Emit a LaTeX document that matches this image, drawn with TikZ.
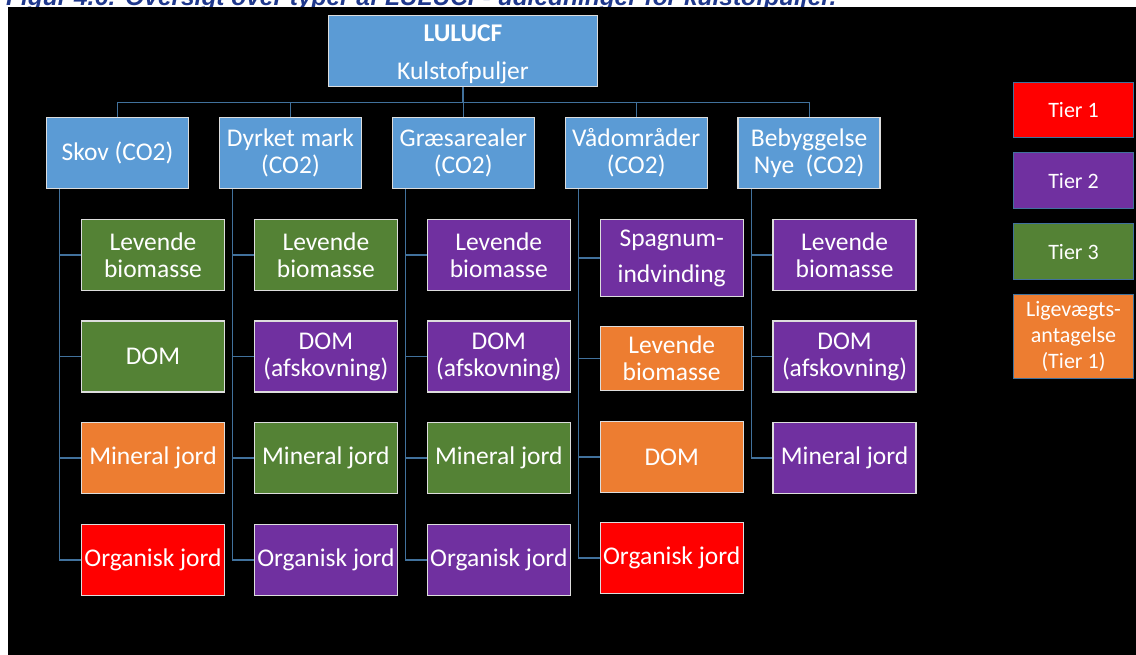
\documentclass[tikz,border=0pt]{standalone}
\usepackage{fontspec}
\setmainfont{Carlito}
\newfontfamily\capfont{Liberation Sans}
\usetikzlibrary{calc}
\definecolor{boxblue}{HTML}{5B9BD5}
\definecolor{tgreen}{HTML}{548235}
\definecolor{tpurple}{HTML}{7030A0}
\definecolor{torange}{HTML}{ED7D31}
\definecolor{tred}{HTML}{FF0000}
\definecolor{linecol}{HTML}{41719C}
\definecolor{bordercol}{HTML}{DDDDDD}
\definecolor{capblue}{RGB}{31,56,140}
\begin{document}
\begin{tikzpicture}[x=1pt,y=-1pt,
  box/.style={draw=bordercol, line width=1.3pt, text=white, align=center, inner sep=1pt,
              font=\fontsize{25.5}{27}\selectfont},
  cat/.style={box, fill=boxblue, minimum width=142pt, minimum height=71pt},
  leaf/.style={box, minimum width=143pt, minimum height=71pt},
  gr/.style={leaf, fill=tgreen},
  pu/.style={leaf, fill=tpurple},
  orng/.style={leaf, fill=torange},
  rd/.style={leaf, fill=tred},
  leg/.style={draw=linecol, line width=1pt, text=white, align=center, inner sep=1pt,
              minimum width=120pt, font=\fontsize{22}{26}\selectfont},
  conn/.style={draw=linecol, line width=1.2pt}]
\useasboundingbox (0,0) rectangle (1136,655);
\fill[white] (0,0) rectangle (1136,655);
\begin{scope}
  \clip (0,0) rectangle (1136,7);
  \node[anchor=base west, inner sep=0, text=capblue] (cap) at (6,5.5)
    {\resizebox{830pt}{!}{\capfont\bfseries\itshape Figur 4.6: Oversigt over typer af LULUCF- udledninger for kulstofpuljer.}};
\end{scope}
\fill[black] (8,7) rectangle (1136,655);

% root
\node[cat, minimum width=269pt] (root) at (463,51) {\rule{0pt}{23pt}\textbf{LULUCF}\\[11pt]Kulstofpuljer};

% categories
\node[cat] (c1) at (117.5,153) {Skov (CO2)};
\node[cat] (c2) at (290.4,153) {Dyrket mark\\(CO2)};
\node[cat] (c3) at (463.3,153) {Græsarealer\\(CO2)};
\node[cat] (c4) at (636.2,153) {Vådområder\\(CO2)};
\node[cat] (c5) at (809.1,153) {Bebyggelse\\Nye\ \ (CO2)};

% Skov
\node[gr]   (s1) at (153,255)   {Levende\\biomasse};
\node[gr]   (s2) at (153,356.5) {DOM};
\node[orng] (s3) at (153,458)   {Mineral jord};
\node[rd]   (s4) at (153,560)   {Organisk jord};
% Dyrket mark
\node[gr] (d1) at (325.9,255)   {Levende\\biomasse};
\node[pu] (d2) at (325.9,356.5) {DOM\\(afskovning)};
\node[gr] (d3) at (325.9,458)   {Mineral jord};
\node[pu] (d4) at (325.9,560)   {Organisk jord};
% Græsarealer
\node[pu] (g1) at (498.8,255)   {Levende\\biomasse};
\node[pu] (g2) at (498.8,356.5) {DOM\\(afskovning)};
\node[gr] (g3) at (498.8,458)   {Mineral jord};
\node[pu] (g4) at (498.8,560)   {Organisk jord};
% Vådområder
\node[pu, minimum height=77pt]   (v1) at (671.7,258)   {Spagnum-\\[9pt]indvinding};
\node[orng, minimum height=64pt] (v2) at (671.7,358.5) {Levende\\biomasse};
\node[orng] (v3) at (671.7,457)   {DOM};
\node[rd]   (v4) at (671.7,558)   {Organisk jord};
% Bebyggelse
\node[pu] (b1) at (844.6,255)   {Levende\\biomasse};
\node[pu] (b2) at (844.6,356.5) {DOM\\(afskovning)};
\node[pu] (b3) at (844.6,458)   {Mineral jord};

% connectors root -> categories
\foreach \c in {c1,c2,c3,c4,c5}
  \draw[conn] (root.south) -- ++(0,15) -| (\c.north);

% connectors categories -> leaves
\foreach \c/\l in {c1/s1,c1/s2,c1/s3,c1/s4,
                   c2/d1,c2/d2,c2/d3,c2/d4,
                   c3/g1,c3/g2,c3/g3,c3/g4,
                   c4/v1,c4/v2,c4/v3,c4/v4,
                   c5/b1,c5/b2,c5/b3}
  \draw[conn] ($(\c.south west)+(14,0)$) |- (\l.west);

% legend
\node[leg, fill=tred,     minimum height=55pt] (t1) at (1073.5,110.5) {Tier 1};
\node[leg, fill=tpurple,  minimum height=56pt] (t2) at (1073.5,181)   {Tier 2};
\node[leg, fill=tgreen,   minimum height=56pt] (t3) at (1073.5,252)   {Tier 3};
\node[leg, fill=torange,  minimum height=83pt] (t4) at (1073.5,336.5) {Ligevægts-\\antagelse\\(Tier 1)};
\end{tikzpicture}
\end{document}
